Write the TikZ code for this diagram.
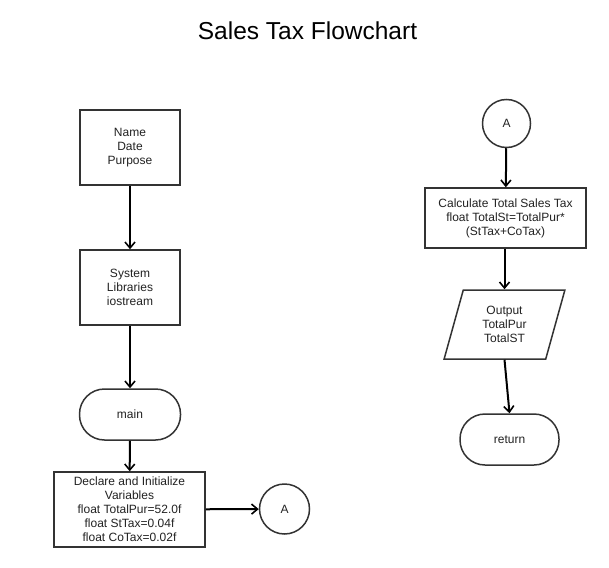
\documentclass[tikz,border=0pt]{standalone}
\usepackage{fontspec}
\setmainfont{Liberation Sans}
\usetikzlibrary{arrows.meta,shapes.geometric}
\definecolor{edge}{HTML}{333333}
\definecolor{txt}{HTML}{222222}
\tikzset{
  base/.style={draw=edge, line width=1.5pt, fill=white, text=txt, align=center,
    font=\fontsize{12}{14}\selectfont, inner sep=2pt},
  procbox/.style={base, rectangle},
  termbox/.style={base, rectangle, rounded corners=25pt},
  conn/.style={base, circle},
  iobox/.style={base, trapezium, trapezium left angle=74.6, trapezium right angle=105.4,
    trapezium stretches=true},
  flow/.style={draw=black, line width=2pt, -{Straight Barb[length=6pt,width=10pt,line width=1.6pt]}}
}
\begin{document}
\begin{tikzpicture}[x=1pt,y=-1pt]
\useasboundingbox[fill=white] (0,0) rectangle (609,567);
\node[text=black, font=\fontsize{24.5}{28}\selectfont] (title) at (307.5,31) {Sales Tax Flowchart};
\node[procbox, minimum width=100pt, minimum height=75pt] (info) at (130,147.5) {Name\\Date\\Purpose};
\node[procbox, minimum width=100pt, minimum height=75pt] (libs) at (130,287.5) {System\\Libraries\\iostream};
\node[termbox, minimum width=101pt, minimum height=51pt] (main) at (130,414.5) {main};
\node[procbox, minimum width=151pt, minimum height=75pt] (decl) at (129.5,509.5) {Declare and Initialize\\Variables\\float TotalPur=52.0f\\float StTax=0.04f\\float CoTax=0.02f};
\node[conn, minimum size=50pt] (a1) at (284.5,509) {A};
\node[conn, minimum size=48pt] (a2) at (506.5,123.5) {A};
\node[procbox, minimum width=161pt, minimum height=60pt] (calc) at (505.5,218) {Calculate Total Sales Tax\\float TotalSt=TotalPur*\\(StTax+CoTax)};
\node[iobox, minimum width=121pt, minimum height=69pt] (out) at (504.5,324.5) {Output\\TotalPur\\TotalST};
\node[termbox, minimum width=99pt, minimum height=51pt] (ret) at (509.5,439.5) {return};
\draw[flow] (info) -- (libs);
\draw[flow] (libs) -- (main);
\draw[flow] (main) -- (decl);
\draw[flow] (decl) -- (a1);
\draw[flow] (a2) -- (calc);
\draw[flow] (calc.south -| out.south) -- (out.north);
\draw[flow] (out.south) -- (ret.north);
\end{tikzpicture}
\end{document}
